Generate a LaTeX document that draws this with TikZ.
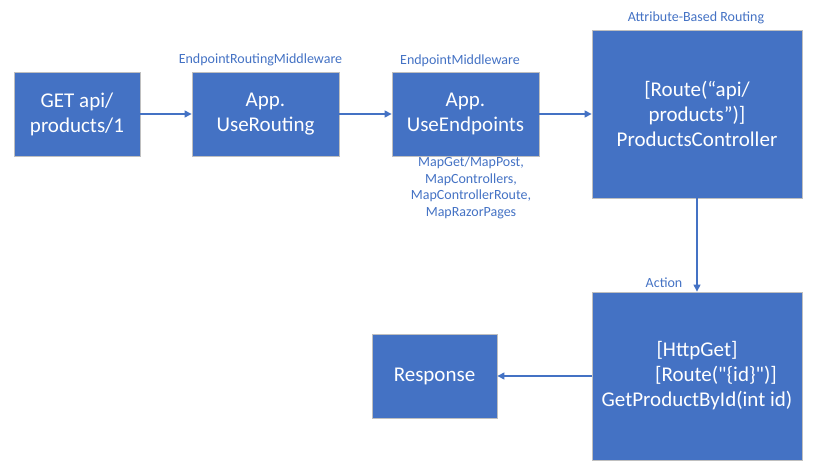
\documentclass[tikz,border=0pt]{standalone}
\usepackage{fontspec}
\setmainfont{Carlito}
\usetikzlibrary{arrows.meta}
\definecolor{officeblue}{HTML}{4472C4}
\definecolor{boxline}{HTML}{BFBFBF}
\begin{document}
\begin{tikzpicture}[x=1pt, y=-1pt,
  box/.style={draw=boxline, line width=0.8pt, fill=officeblue, text=white,
    align=center, inner sep=0pt,
    font=\fontsize{21}{25}\selectfont},
  tag/.style={text=officeblue, inner sep=0pt, align=center,
    font=\fontsize{14}{16.5}\selectfont},
  flow/.style={draw=officeblue, line width=1.1pt,
    -{Triangle[length=7pt, width=7pt]}}]
\useasboundingbox (0,0) rectangle (816,476);
%
% ---- Boxes ----
\node[box, minimum width=126pt, minimum height=84pt] (request) at (77,114)
  {GET api/\\products/1};
\node[box, minimum width=147pt, minimum height=84pt] (routing) at (265.5,114)
  {App.\\UseRouting};
\node[box, minimum width=147pt, minimum height=84pt] (endpoints) at (465.5,114)
  {App.\\UseEndpoints};
\node[box, minimum width=210pt, minimum height=168pt] (controller) at (697,114)
  {[Route(“api/\\products”)]\\ProductsController};
\node[box, minimum width=210pt, minimum height=168pt] (action) at (697,376)
  {[HttpGet]\\\hspace*{38pt}[Route(\textquotedbl\{id\}\textquotedbl)]\\GetProductById(int id)};
\node[box, minimum width=125pt, minimum height=84pt] (response) at (434.5,376)
  {Response};
%
% ---- Connectors ----
\draw[flow] (request) -- (routing);
\draw[flow] (routing) -- (endpoints);
\draw[flow] (endpoints) -- (controller);
\draw[flow] (controller) -- (action);
\draw[flow] (action) -- (response);
%
% ---- Labels ----
\node[tag] (routingtag) at (260.5,59.5) {EndpointRoutingMiddleware};
\node[tag] (endpointstag) at (460,60.5) {EndpointMiddleware};
\node[tag] (controllertag) at (696,17.5) {Attribute-Based Routing};
\node[tag] (maptag) at (471,188)
  {MapGet/MapPost,\\MapControllers,\\MapControllerRoute,\\MapRazorPages};
\node[tag] (actiontag) at (664,282.5) {Action};
\end{tikzpicture}
\end{document}
